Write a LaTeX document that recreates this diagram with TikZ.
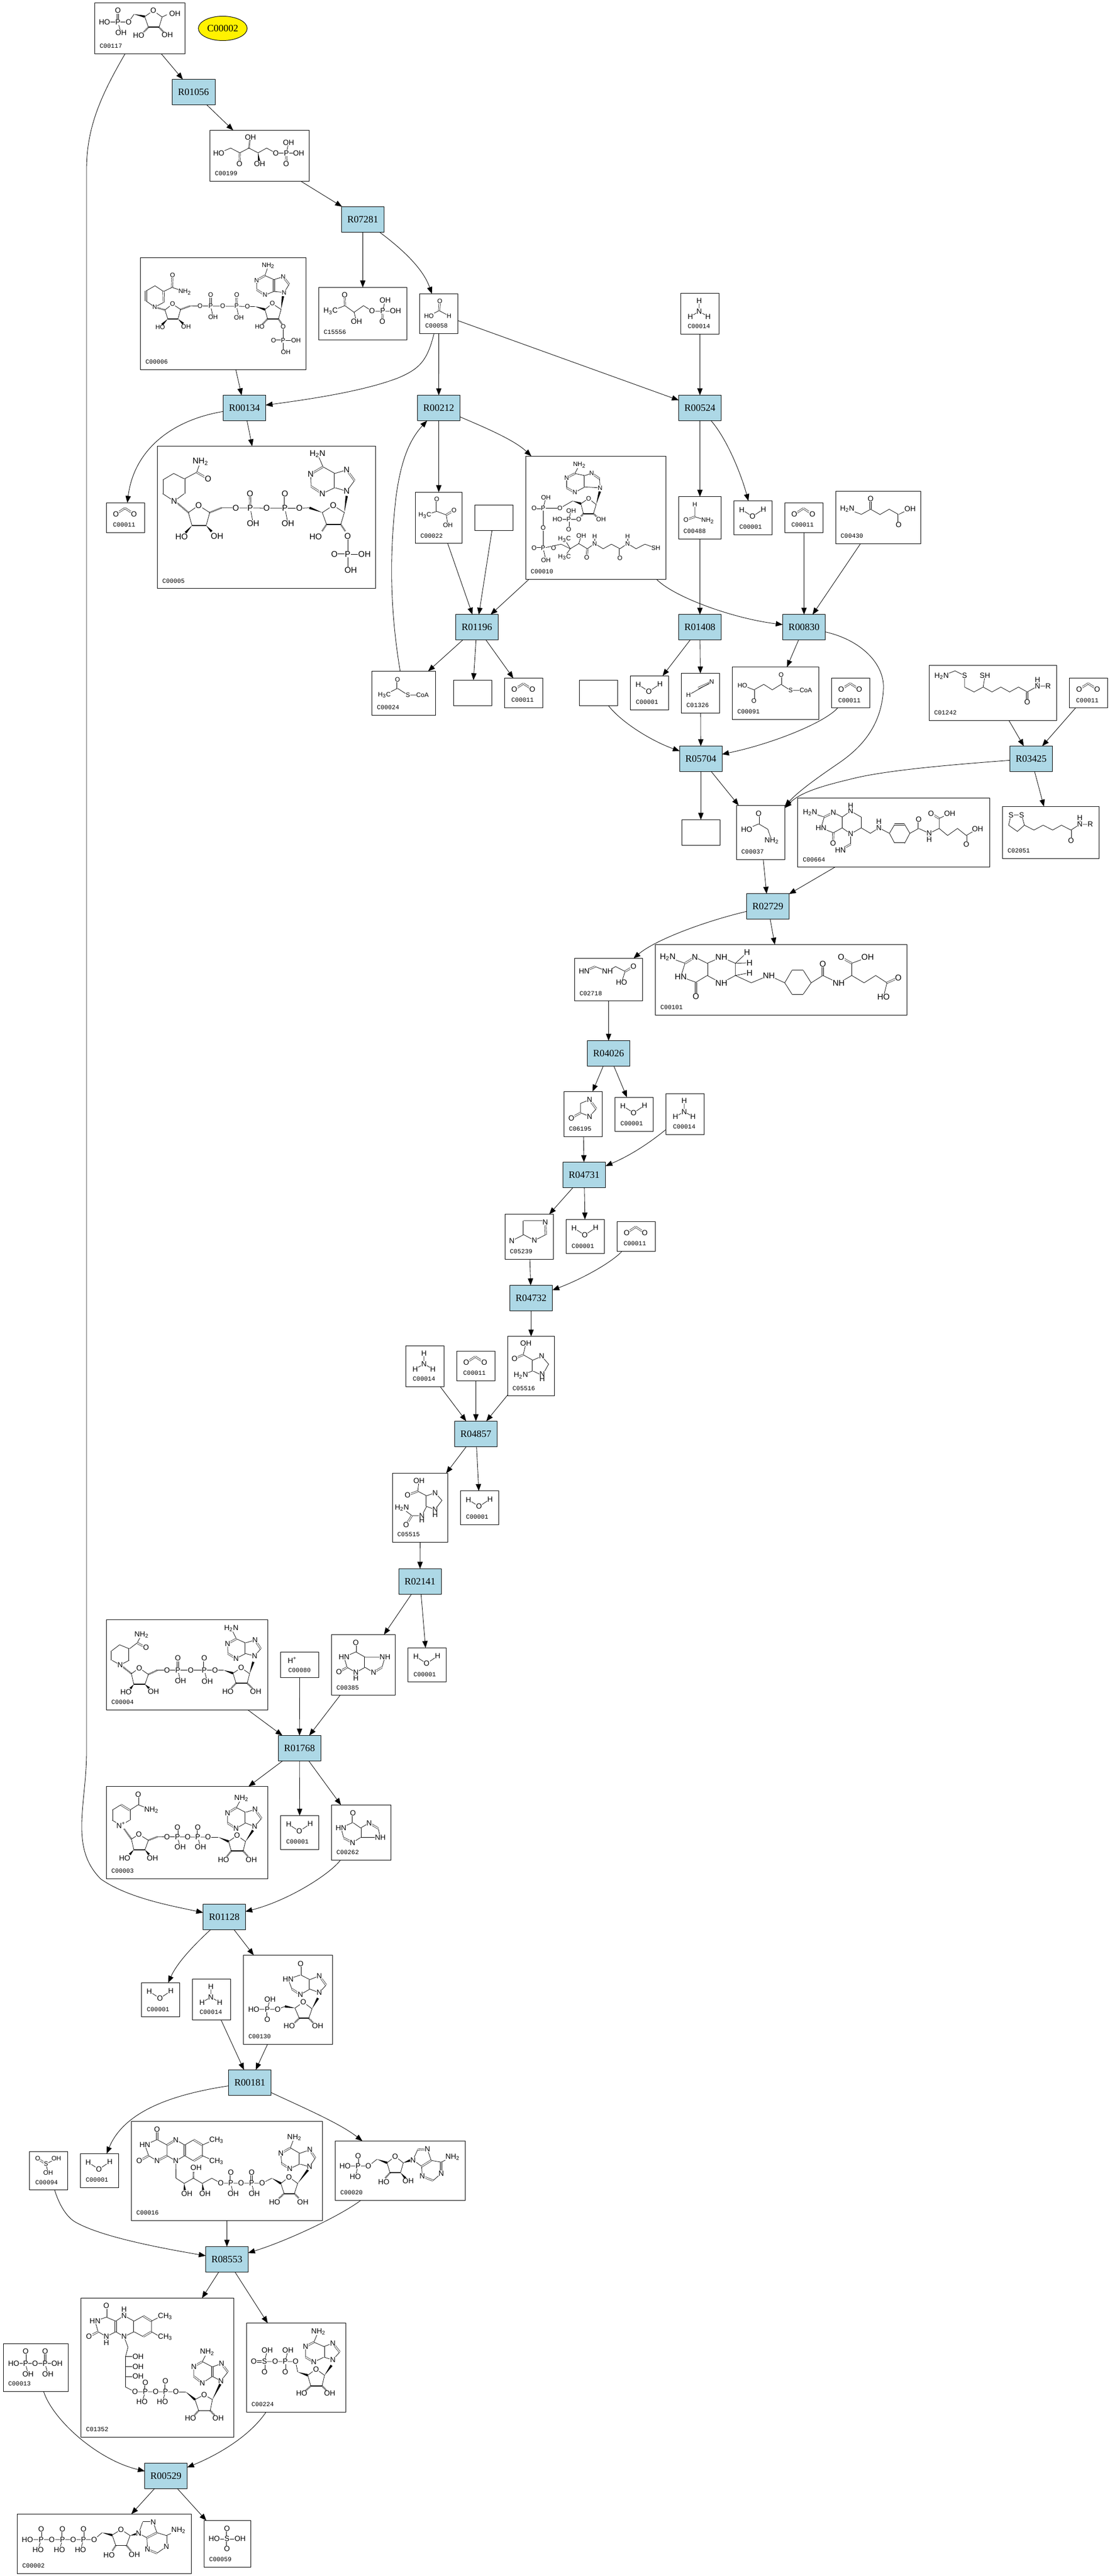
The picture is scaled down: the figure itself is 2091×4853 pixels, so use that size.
\documentclass[tikz,border=0pt]{standalone}
\usepackage{fontspec}
\setmainfont{Liberation Serif}
\newfontfamily\afam{Liberation Sans}
\newfontfamily\lfam{Liberation Mono}
\usetikzlibrary{arrows.meta,calc,shapes.geometric}
\newcounter{atm}
\newcommand\xNHb{NH\textsubscript{2}}
\newcommand\xHbN{H\textsubscript{2}N}
\newcommand\xHcC{H\textsubscript{3}C}
\newcommand\xCHc{CH\textsubscript{3}}
\newcommand\afS{\fontsize{6}{7}\selectfont\afam}
\newcommand\afM{\fontsize{7}{8}\selectfont\afam}
\newcommand\afL{\fontsize{7.8}{9}\selectfont\afam}
\let\afont\afM
\tikzset{
 cpd/.style={draw,line width=.5pt,inner sep=0pt,outer sep=0pt},
 rxn/.style={draw,line width=.5pt,inner sep=0pt,outer sep=0pt,fill=rxblue,font=\fontsize{9.2}{10}\selectfont},
 lab/.style={inner sep=0pt,anchor=west,font=\fontsize{5.85}{6}\selectfont\lfam},
 atom/.style={fill=white,inner sep=.25pt,outer sep=0pt,font=\afont},
 bd/.style={line width=.38pt},
 db/.style={double,line width=.33pt,double distance=1pt},
 hash/.style={line width=1.5pt,dash pattern=on .35pt off .55pt},
 edge/.style={-{Triangle[length=6.5pt,width=5pt]},line width=.42pt},
 Z1/.style={x=.2870pt,y=-.2232pt},
 Z2/.style={xshift=100pt,yshift=-225pt,x=.2232pt,y=-.2232pt},
 Z3/.style={xshift=350pt,yshift=-250pt,x=.2870pt,y=-.2870pt},
 Z4/.style={xshift=525pt,yshift=-600pt,x=.3320pt,y=-.2551pt},
 Z5/.style={xshift=350pt,yshift=-1000pt,x=.2232pt,y=-.2870pt},
 Z6/.style={xshift=75pt,yshift=-1450pt,x=.3189pt,y=-.2232pt},
 Z7/.style={xshift=100pt,yshift=-1775pt,x=.2551pt,y=-.2232pt},
 Z8/.style={yshift=-2100pt,x=.2870pt,y=-.2082pt},
 Z9/.style={yshift=-1990pt,x=.1667pt,y=-.1667pt},
 Z10/.style={xshift=775pt,yshift=-450pt,x=.1667pt,y=-.1667pt},
}
\definecolor{rxblue}{HTML}{ADD8E6}
% boxes: name, x0,y0,x1,y1, label
\newcommand\Cb[6][9]{%
 \pgfmathsetmacro\wb{(#4-#2)*.5}\pgfmathsetmacro\hb{(#5-#3)*.5}%
 \node[cpd,minimum width=\wb pt,minimum height=\hb pt] (#6) at ({(#2+#4)/2},{(#3+#5)/2}) {};%
 \node[lab] (#6l) at ({#2+#1},{#5-14.5}) {#6};}
\newcommand\Cc[6][9]{%
 \pgfmathsetmacro\wb{(#4-#2)*.5}\pgfmathsetmacro\hb{(#5-#3)*.5}%
 \node[cpd,minimum width=\wb pt,minimum height=\hb pt] (#6) at ({(#2+#4)/2},{(#3+#5)/2}) {};%
 \node[lab] (#6l) at ({#2+#1},{#5-14.5}) {\cutlast#6\relax};}
\def\cutlast#1#2#3#4#5#6#7\relax{#1#2#3#4#5#6}
\newcommand\Bb[5]{%
 \pgfmathsetmacro\wb{(#3-#1)*.5}\pgfmathsetmacro\hb{(#4-#2)*.5}%
 \node[cpd,minimum width=\wb pt,minimum height=\hb pt] (#5) at ({(#1+#3)/2},{(#2+#4)/2}) {};}
\newcommand\Rb[5]{%
 \pgfmathsetmacro\wb{(#3-#1)*.5}\pgfmathsetmacro\hb{(#4-#2)*.5}%
 \node[rxn,minimum width=\wb pt,minimum height=\hb pt] (#5) at ({(#1+#3)/2},{(#2+#4)/2}) {#5};}
% molecule helpers
\newcommand\At[3]{\stepcounter{atm}\node[atom] (a\arabic{atm}) at (#1,#2) {#3};}
\newcommand\AtP[2]{\stepcounter{atm}\node[atom] (a\arabic{atm}) at (#1) {#2};}
\newcommand\Ats[1]{\foreach \xa/\ya/\ta in {#1}{\At{\xa}{\ya}{\ta}}}
\newcommand\Bo[1]{\draw[bd] #1;}
\newcommand\Db[2]{\draw[db] (#1)--(#2);}
\newcommand\Wd[2]{\fill (#1) -- ($(#2)!1.1pt!90:(#1)$) -- ($(#2)!1.1pt!-90:(#1)$) -- cycle;}
\newcommand\Hd[2]{\draw[hash] (#1)--(#2);}
\newcommand\Aden[9]{\Bo{(#5)--(#1)--(#2)--(#3)--(#4)--(#9)--(#8)--(#7)--(#6)--(#5)}\Db{#5}{#4}\Db{#2}{#3}\Db{#7}{#6}\Db{#9}{#8}\AtP{#1}{N}\AtP{#3}{N}\AtP{#6}{N}\AtP{#8}{N}}
\newcommand\RibB[5]{\Bo{(#1)--(#2)--(#3)--(#4)}\Bo{(#5)--(#1)}\draw[line width=.9pt] (#4)--(#5);\AtP{#2}{O}}
\newcommand\water[1]{\begin{scope}[shift={(#1.north west)}]\let\afont\afM\Bo{(15,16.6)--(35,29.3)--(55.7,15.5)}\Ats{15/16.6/H,35/29.3/O,55.7/15.5/H}\end{scope}}
\newcommand\cotwo[1]{\begin{scope}[shift={(#1.north west)}]\let\afont\afM\Db{18,21}{35,10}\Db{35,10}{52,21}\Ats{18/21/O,52/21/O}\end{scope}}
\newcommand\ammon[1]{\begin{scope}[shift={(#1.north west)}]\let\afont\afM\Bo{(34.4,13.8)--(34.4,33.9)--(17.8,43.6)}\Bo{(34.4,33.9)--(51,43.6)}\Ats{34.4/13.8/H,34.4/33.9/N,17.8/43.6/H,51/43.6/H}\end{scope}}
\begin{document}
\begin{tikzpicture}[x=.5pt,y=-.5pt]
\path[use as bounding box,fill=white] (0,0) rectangle (2091,4853);
% ---------- reaction boxes
\Rb{324}{149.6}{405}{197.3}{R01056}
\Rb{643.5}{389.3}{723.3}{437.5}{R07281}
\Rb{420.5}{744.6}{500.4}{792.4}{R00134}
\Rb{786.6}{744.6}{866.5}{792.4}{R00212}
\Rb{1278.6}{744.5}{1358.4}{792.2}{R00524}
\Rb{858.4}{1157.9}{938.2}{1205.5}{R01196}
\Rb{1278.6}{1157.9}{1358.4}{1205.5}{R01408}
\Rb{1474.4}{1157.9}{1554.8}{1205.5}{R00830}
\Rb{1280.4}{1405.6}{1360.1}{1453.1}{R05704}
\Rb{1902.6}{1405.6}{1982.3}{1453.1}{R03425}
\Rb{1406.6}{1683.7}{1486.3}{1731.6}{R02729}
\Rb{1106.4}{1960.7}{1186.4}{2008.5}{R04026}
\Rb{1060.3}{2189.4}{1140.6}{2237.7}{R04731}
\Rb{960.3}{2421.4}{1040.6}{2469.6}{R04732}
\Rb{856.3}{2677.4}{936.6}{2725.6}{R04857}
\Rb{751.4}{2955.4}{831.1}{3003.6}{R02141}
\Rb{524.4}{3269.6}{604}{3317.4}{R01768}
\Rb{382.7}{3587.5}{462.2}{3635.3}{R01128}
\Rb{430.6}{3899.5}{510.7}{3947.3}{R00181}
\Rb{387.5}{4232.5}{467.3}{4280.4}{R08553}
\Rb{272.7}{4640.6}{352.5}{4688.5}{R00529}
% ---------- compounds
\node[ellipse,draw,line width=.5pt,fill=yellow,minimum width=46pt,minimum height=23pt,inner sep=0pt,font=\fontsize{9.2}{10}\selectfont] (C00002n) at (419.6,53.5) {C00002};
\Cb{178.5}{5.4}{348.4}{101.3}{C00117}
\Cb{395.5}{245.5}{582.7}{341.5}{C00199}
\Cb{264.6}{485.3}{576.3}{696.4}{C00006}
\Cb{600.4}{541.5}{766.3}{640.6}{C15556}
\Cb[10.4]{790.4}{553.6}{862.8}{628.6}{C00058}
\Cc[12]{200.4}{947.3}{272.3}{1003.6}{C00011a}
\Cb{296.4}{840.6}{707.6}{1108.9}{C00005}
\Cb{782.6}{927.2}{870.5}{1023.7}{C00022}
\Cc[12.5]{1282.7}{552.8}{1354.4}{629.2}{C00014a}
\Cb{990.5}{859.4}{1254.5}{1091.3}{C00010}
\Bb{894.6}{951.2}{966.4}{999.4}{blankA}
\Cb[8.5]{1278.6}{935.7}{1358.4}{1015.5}{C00488}
\Cc[10]{1382.5}{943.7}{1454.3}{1007.5}{C00001a}
\Cc[12]{1478.4}{947.8}{1550.7}{1003.4}{C00011b}
\Cb{1574.3}{925.3}{1734.3}{1024.3}{C00430}
\Cb[9]{700.6}{1264.6}{820.6}{1347.3}{C00024}
\Bb{854.4}{1281.3}{926.2}{1329.5}{blankB}
\Cc[12]{950.9}{1277.8}{1022.6}{1333}{C00011c}
\Bb{1091.5}{1281.3}{1163.3}{1329.5}{blankC}
\Cc[10]{1187.4}{1273.3}{1259.7}{1337.5}{C00001b}
\Cb[9]{1283.8}{1268.7}{1355.6}{1343.3}{C01326}
\Cb{1379.7}{1256.6}{1542.7}{1355.4}{C00091}
\Cc[12]{1566.6}{1277.6}{1638.3}{1333.7}{C00011d}
\Cb{1750.5}{1253.6}{1990.2}{1357.1}{C01242}
\Cc[12]{2014.8}{1277.6}{2086.5}{1333.7}{C00011e}
\Cb{1387.3}{1517.3}{1478.3}{1619.4}{C00037}
\Cb{1502.9}{1503.6}{1864.7}{1633.7}{C00664}
\Cb{1888.6}{1519.4}{2070.6}{1617.3}{C02051}
\Bb{1284.4}{1544.4}{1356.1}{1592.3}{blankD}
\Cb{1082.5}{1805.6}{1210.7}{1885.7}{C02718}
\Cb{1234.6}{1779.6}{1708.7}{1912.2}{C00101}
\Cb{1062.5}{2056.3}{1134.4}{2141.2}{C06195}
\Cc[10]{1158.5}{2067.2}{1230.4}{2131.5}{C00001c}
\Cc[13]{1254.5}{2060.3}{1326.3}{2137.2}{C00014b}
\Cb{951.3}{2287.6}{1042.4}{2372.6}{C05239}
\Cc[10]{1066.5}{2297.4}{1138.4}{2361.7}{C00001d}
\Cc[12]{1162.5}{2301.4}{1234.4}{2357.6}{C00011f}
\Cb{956.3}{2517.8}{1044.6}{2629.7}{C05516}
\Cc[13]{764.3}{2535.6}{836.6}{2612.5}{C00014c}
\Cc[12]{860.3}{2545.9}{932.6}{2601.6}{C00011g}
\Cb{739.3}{2775.5}{843.5}{2905.4}{C05515}
\Cc[10]{867.4}{2808.8}{939.7}{2872.6}{C00001e}
\Cb{624.5}{3079.5}{744.4}{3193.8}{C00385}
\Cc[10]{768.6}{3104.5}{840}{3168.8}{C00001f}
\Cb{200.4}{3051.3}{504.6}{3221.4}{C00004}
\Cb[14]{528.8}{3112.5}{600.3}{3160.7}{C00080}
\Cb{200.4}{3365.6}{504.6}{3539.3}{C00003}
\Cc[10]{528.8}{3420.5}{600.3}{3484.4}{C00001g}
\Cb{624.5}{3400.4}{736.1}{3504.5}{C00262}
\Cc[10]{266.3}{3735.3}{338.3}{3799.6}{C00001h}
\Cc[13]{362.8}{3728.6}{434.7}{3805.4}{C00014d}
\Cb{458.7}{3683.5}{626.5}{3851.3}{C00130}
\Cb{247.4}{3996.4}{607.7}{4183.5}{C00016}
\Cb{631.6}{4033.5}{876.5}{4145.5}{C00020}
\Cc[10]{151.3}{4057.3}{223.7}{4121.3}{C00001i}
\Cb[11]{55.3}{4053.3}{127.7}{4125.7}{C00094}
\Cb{152.7}{4329.5}{440.3}{4591.5}{C01352}
\Cb{464.4}{4376.6}{651.5}{4544.4}{C00224}
\Cb{6.3}{4415.3}{128.6}{4505.3}{C00013}
\Cc{32.7}{4736.4}{360.5}{4848.5}{C00002b}
\Cb{384.6}{4748.5}{472.4}{4836.4}{C00059}
% ---------- small repeated molecules
\water{C00001a}\water{C00001b}\water{C00001c}\water{C00001d}\water{C00001e}\water{C00001f}\water{C00001g}\water{C00001h}\water{C00001i}
\cotwo{C00011a}\cotwo{C00011b}\cotwo{C00011c}\cotwo{C00011d}\cotwo{C00011e}\cotwo{C00011f}\cotwo{C00011g}
\ammon{C00014a}\ammon{C00014b}\ammon{C00014c}\ammon{C00014d}
% ---------- Z1 molecules
\begin{scope}[Z1]\let\afont\afM
\Bo{(343,93)--(422,93)--(440,60)}\Db{387,45}{387,93}\Bo{(387,93)--(397,139)}\Wd{440,60}{475,70}
\RibB{475,70}{503,45}{532,72}{522,115}{487,115}
\Bo{(532,72)--(548,62)}\Hd{487,115}{465,145}\Hd{522,115}{540,140}
\Ats{387/45/O,387/93/P,343/93/HO,422/93/O,397/139/OH,574/57/OH,455/150/HO,549/148/OH}
% C00199
\Bo{(718,646)--(757,625)--(787,645)--(817,625)--(847,645)--(875,625)--(905,646)--(980,646)}\Bo{(940,646)--(947,602)}\Db{787,645}{786,691}\Db{940,646}{939,691}\Hd{817,625}{820,590}\Wd{847,645}{850,680}
\Ats{718/646/HO,786/691/O,822/579/OH,852/691/OH,905/646/O,940/646/P,947/602/OH,980/646/OH,939/691/O}
% C15556
\Bo{(1085,1313)--(1132,1290)--(1162,1318)--(1193,1290)--(1221,1313)--(1298,1313)}\Bo{(1162,1318)--(1170,1357)}\Bo{(1256,1313)--(1264,1268)}\Db{1132,1290}{1131,1245}\Db{1256,1313}{1255,1357}
\Ats{1085/1313/\xHcC,1131/1245/O,1170/1357/OH,1221/1313/O,1256/1313/P,1264/1268/OH,1298/1313/OH,1255/1357/O}
\end{scope}
% ---------- Z2 molecules
\begin{scope}[Z2]\let\afont\afS
% C00058
\Bo{(1362,325)--(1405,303)--(1447,325)}\Db{1408,262}{1405,303}\Ats{1408/262/O,1362/325/HO,1447/325/H}
% C00022
\Bo{(1345,1166)--(1395,1150)--(1435,1165)--(1442,1208)}\Db{1395,1099}{1395,1150}\Db{1435,1165}{1468,1145}\Ats{1395/1099/O,1345/1166/\xHcC,1468/1145/O,1442/1208/OH}
% C00006
\Bo{(278,205)--(332,223)}\Db{280,154}{278,205}\Bo{(278,205)--(242,222)--(206,198)--(168,220)--(168,262)--(205,288)--(243,268)--(242,222)}\Db{242,222}{243,268}\Db{168,220}{168,262}
\Hd{205,288}{248,300}\RibB{314,298}{280,275}{248,300}{260,338}{303,338}
\Wd{260,338}{236,362}\Wd{303,338}{325,358}\Hd{314,298}{355,283}
\Bo{(355,283)--(596,285)}\Db{441,237}{441,283}\Db{551,237}{550,283}\Bo{(441,283)--(451,330)}\Bo{(550,283)--(560,332)}\Bo{(596,285)--(628,285)}\Wd{628,285}{670,298}
\RibB{670,298}{701,273}{738,298}{727,338}{681,338}\Hd{681,338}{660,360}\Hd{727,338}{742,360}
\Wd{738,298}{746,242}\Bo{(747,371)--(747,478)}\Db{706,429}{747,429}\Bo{(747,429)--(801,429)}
\Bo{(670,155)--(684,113)}\Aden{751,226}{772,192}{747,160}{708,172}{708,222}{670,237}{636,215}{635,175}{670,155}
\Ats{280/154/O,332/223/\xNHb,205/288/N,228/373/HO,337/371/OH,396/283/O,441/283/P,441/237/O,451/330/OH,492/283/O,550/283/P,551/237/O,560/332/OH,596/285/O,648/371/HO,747/371/O,747/429/P,706/429/O,801/429/OH,758/478/OH,684/113/\xNHb}
\end{scope}
\begin{scope}[Z2]\let\afont\afL
% C00005
\Bo{(398,940)--(382,985)--(330,1013)--(285,990)--(238,1018)--(238,1075)--(287,1107)--(330,1075)--(330,1013)}\Db{382,985}{430,1013}\Db{330,1013}{330,1075}\Db{238,1018}{238,1075}
\Hd{300,1115}{347,1155}\RibB{437,1155}{390,1125}{347,1155}{362,1210}{422,1210}\Wd{362,1210}{335,1240}\Wd{422,1210}{445,1235}\Hd{437,1155}{487,1135}
\Bo{(487,1135)--(815,1137)}\Db{607,1076}{608,1135}\Db{754,1076}{754,1135}\Bo{(608,1135)--(620,1200)}\Bo{(754,1135)--(767,1202)}\Wd{912,1155}{858,1135}\Bo{(815,1137)--(858,1135)}
\RibB{912,1155}{958,1125}{1005,1155}{990,1205}{930,1205}\Hd{930,1205}{910,1235}\Hd{990,1205}{1010,1235}
\Wd{1005,1155}{1015,1085}\Bo{(1019,1255)--(1019,1399)}\Db{963,1332}{1019,1332}\Bo{(1019,1332)--(1090,1332)}
\Bo{(915,962)--(892,908)}\Aden{1015,1065}{1048,1020}{1015,975}{965,990}{965,1050}{912,1075}{865,1045}{863,993}{915,962}
\Ats{398/940/\xNHb,430/1013/O,287/1107/N,318/1258/HO,468/1255/OH,547/1137/O,608/1135/P,607/1076/O,620/1200/OH,677/1137/O,754/1135/P,754/1076/O,767/1202/OH,815/1137/O,884/1257/HO,1019/1255/O,1019/1332/P,963/1332/O,1090/1332/OH,1032/1399/OH,892/908/\xHbN}
\end{scope}
% ---------- Z3 molecules
\begin{scope}[Z3]\let\afont\afS
% C00010
\Bo{(667,683)--(682,655)}\Aden{750,730}{748,700}{722,682}{700,690}{700,727}{667,745}{640,730}{640,697}{667,683}
\RibB{687,782}{712,765}{737,785}{728,815}{695,815}\Wd{737,785}{749,742}\Wd{660,773}{687,782}\Bo{(660,773)--(618,797)--(563,797)}\Db{533,797}{563,797}\Bo{(563,797)--(572,762)}\Bo{(563,797)--(563,928)}\Db{533,928}{563,928}\Bo{(563,928)--(572,967)}\Bo{(563,928)--(622,915)--(652,930)--(680,913)--(708,930)--(732,913)--(760,930)--(787,915)--(815,930)--(840,913)--(868,930)--(897,915)--(933,928)}
\Db{708,930}{706,958}\Db{815,930}{815,960}\Bo{(652,930)--(633,898)}\Bo{(652,930)--(633,957)}\Bo{(680,913)--(688,887)}\Bo{(732,913)--(732,890)}\Bo{(840,913)--(840,890)}
\Hd{695,815}{680,833}\Hd{728,815}{745,830}\Bo{(680,833)--(610,833)}\Bo{(647,833)--(655,805)}\Db{647,833}{647,866}
\Ats{682/655/\xNHb,618/797/O,563/797/P,533/797/O,572/762/OH,563/862/O,563/928/P,533/928/O,572/967/OH,597/928/O,633/898/\xHcC,633/957/\xHcC,688/887/OH,706/958/O,732/913/N,732/890/H,815/960/O,840/913/N,840/890/H,933/928/SH,680/833/O,647/833/P,610/833/HO,655/805/OH,647/866/O,753/833/OH}
% C00488
\Bo{(1061,785)--(1061,825)--(1103,838)}\Db{1032,835}{1061,825}\Ats{1061/785/H,1032/835/O,1103/838/\xNHb}
% C01326
\Db{1072,1387}{1116,1367}\Bo{(1040,1410)--(1116,1367)}\Ats{1040/1410/H,1116/1367/N}
% C00024
\Bo{(42,1410)--(85,1388)--(119,1410)--(167,1410)}\Db{85,1360}{85,1388}\Ats{42/1410/\xHcC,85/1360/O,119/1410/S,167/1410/CoA}
% C00091
\Bo{(1217,1378)--(1255,1393)--(1287,1375)--(1315,1393)--(1344,1375)--(1375,1395)--(1425,1395)}\Db{1255,1393}{1255,1430}\Db{1344,1344}{1344,1375}\Ats{1217/1378/HO,1255/1430/O,1344/1344/O,1375/1395/S,1425/1395/CoA}
\end{scope}
% C00430
\begin{scope}[Z10]\let\afont\afM
\Bo{(138,177)--(218,207)--(270,178)--(323,208)--(375,178)--(428,208)--(493,175)}\Db{270,120}{270,178}\Db{428,208}{428,267}\Ats{138/177/\xHbN,270/120/O,428/267/O,493/175/OH}
\end{scope}
% ---------- Z4 molecules
\begin{scope}[Z4]\let\afont\afM
% C01242
\Bo{(1090,145)--(1128,125)--(1155,143)--(1155,185)--(1182,203)--(1208,185)--(1233,203)--(1258,185)--(1283,203)--(1308,185)--(1333,203)--(1362,182)--(1392,182)}\Bo{(1208,185)--(1213,143)}\Bo{(1362,182)--(1362,158)}\Db{1333,203}{1333,241}
\Ats{1090/145/\xHbN,1155/143/S,1213/143/SH,1333/241/O,1362/182/N,1362/158/H,1392/182/R}
% C00037
\Bo{(537,710)--(571,690)--(597,710)--(608,752)}\Db{571,652}{571,690}\Ats{571/652/O,537/710/HO,608/752/\xNHb}
% C00664
\Bo{(717,648)--(757,665)--(783,648)--(808,665)--(808,705)--(783,723)--(748,705)--(757,665)}\Db{757,665}{783,648}\Db{782,762}{783,723}
\Bo{(808,665)--(832,643)--(862,665)--(862,705)--(832,727)--(808,705)}\Bo{(832,643)--(832,622)}\Bo{(832,727)--(832,765)}\Db{832,765}{803,787}
\Bo{(862,705)--(888,725)--(912,705)--(942,725)}\Bo{(912,705)--(912,682)}
\Bo{(942,725)--(957,692)--(985,692)--(1000,725)--(985,762)--(957,762)--cycle}\Db{957,692}{985,692}\Db{957,762}{985,762}
\Bo{(1000,725)--(1025,707)--(1055,725)--(1083,707)--(1107,733)--(1135,707)--(1160,733)--(1192,708)}\Db{1025,674}{1025,707}\Bo{(1055,725)--(1055,748)}\Bo{(1083,707)--(1083,670)--(1113,652)}\Db{1060,652}{1083,670}\Db{1160,765}{1160,733}
\Ats{717/648/\xHbN,783/648/N,748/705/HN,782/762/O,832/643/N,832/622/H,832/727/N,803/787/HN,912/705/N,912/682/H,1025/674/O,1055/725/N,1055/748/H,1060/652/O,1113/652/OH,1160/765/O,1192/708/OH}
% C02051
\Bo{(1287,657)--(1317,657)--(1325,695)--(1305,718)--(1280,695)--(1287,657)}\Bo{(1325,695)--(1352,713)--(1378,695)--(1405,713)--(1430,695)--(1457,713)--(1482,692)--(1512,692)}\Bo{(1482,692)--(1482,668)}\Db{1457,713}{1457,752}
\Ats{1287/657/S,1317/657/S,1457/752/O,1482/692/N,1482/668/H,1512/692/R}
% C02718
\Bo{(107,1217)--(142,1235)--(165,1217)--(192,1235)--(182,1276)}\Db{76,1235}{107,1217}\Db{192,1235}{216,1217}\Ats{76/1235/HN,142/1235/NH,216/1217/O,182/1276/HO}
\end{scope}
\begin{scope}[Z4]\let\afont\afL
% C00101
\Bo{(313,1182)--(362,1205)--(390,1182)--(425,1205)--(425,1250)--(393,1275)--(350,1255)--(362,1205)}\Db{362,1205}{390,1182}\Db{425,1205}{425,1250}\Db{393,1275}{393,1327}
\Bo{(425,1205)--(465,1182)--(505,1205)--(505,1250)--(465,1278)--(425,1250)}\Bo{(505,1205)--(538,1165)}\Bo{(505,1205)--(545,1203)}\Bo{(505,1250)--(545,1240)}
\Bo{(505,1250)--(550,1277)--(600,1250)--(645,1277)}\Bo{(645,1277)--(665,1232)--(698,1232)--(720,1277)--(698,1318)--(665,1318)--cycle}\Db{665,1232}{698,1232}\Db{665,1318}{698,1318}
\Bo{(720,1277)--(753,1250)--(798,1278)--(835,1250)--(870,1277)--(903,1250)--(935,1277)--(925,1330)}\Db{753,1207}{753,1250}\Bo{(835,1250)--(835,1205)--(880,1183)}\Db{805,1183}{835,1205}\Db{935,1277}{967,1258}
\Ats{313/1182/\xHbN,390/1182/N,465/1182/NH,538/1165/H,545/1203/H,545/1240/H,465/1278/NH,393/1327/O,350/1255/HN,600/1250/NH,753/1207/O,798/1278/NH,805/1183/O,880/1183/OH,967/1258/O,925/1330/HO}
\end{scope}
% ---------- Z5 molecules
\begin{scope}[Z5]\let\afont\afM
% C06195
\Bo{(882,168)--(882,137)--(920,125)--(948,155)--(920,180)--(882,168)}\Db{843,185}{882,168}\Db{920,125}{948,155}\Ats{843/185/O,920/125/N,920/180/N}
% C05239
\Bo{(642,522)--(733,522)--(735,568)--(687,587)--(642,568)--(642,522)}\Bo{(642,568)--(592,588)}\Db{642,522}{642,568}\Db{733,527}{735,568}\Ats{733/527/N,687/587/N,592/588/N}
% C05516
\Bo{(651,925)--(640,962)--(680,980)--(718,967)--(747,993)--(720,1030)--(680,1015)--(680,980)}\Bo{(680,1015)--(630,1030)}\Db{603,975}{640,962}\Db{680,980}{680,1015}\Bo{(720,1030)--(720,1042)}\Ats{651/925/OH,603/975/O,718/967/N,720/1025/N,720/1042/H,630/1030/\xHbN}
% C05515
\Bo{(200,1375)--(195,1410)--(232,1425)--(268,1415)--(297,1440)--(268,1470)--(232,1460)--(232,1425)}\Db{152,1423}{195,1410}\Db{232,1425}{232,1460}\Bo{(268,1470)--(268,1488)}\Bo{(232,1460)--(212,1490)--(170,1490)--(128,1465)}\Db{170,1490}{146,1520}
\Ats{200/1375/OH,152/1423/O,268/1415/N,268/1470/N,268/1488/H,212/1490/N,212/1505/H,128/1465/\xHbN,146/1520/O}
\end{scope}
% ---------- Z6 molecules
\begin{scope}[Z6]\let\afont\afM
% C00004
\Bo{(183,403)--(170,437)--(147,462)--(118,445)--(95,470)--(95,510)--(120,530)--(147,510)--(147,462)}\Db{170,437}{196,457}\Db{147,462}{147,510}\Db{95,470}{95,510}
\Hd{125,535}{153,567}\RibB{203,570}{176,543}{153,567}{160,612}{193,612}\Wd{160,612}{150,630}\Wd{193,612}{205,628}\Hd{203,570}{230,552}
\Bo{(230,552)--(400,552)}\Db{290,502}{290,552}\Db{368,502}{368,552}\Bo{(290,552)--(298,598)}\Bo{(368,552)--(377,600)}\Bo{(400,552)--(425,552)}\Wd{425,552}{453,565}
\RibB{453,565}{477,542}{502,567}{495,607}{462,607}\Hd{462,607}{448,628}\Hd{495,607}{510,628}\Wd{502,567}{513,517}
\Bo{(463,420)--(448,376)}\Aden{517,492}{535,462}{518,425}{490,437}{490,482}{462,503}{438,482}{437,440}{463,420}
\Ats{183/403/\xNHb,196/457/O,120/530/N,137/645/HO,218/643/OH,258/552/O,290/552/P,290/502/O,298/598/OH,328/552/O,368/552/P,368/502/O,377/600/OH,400/552/O,438/641/HO,520/641/OH,448/376/\xHbN}
% C00003
\Bo{(173,1120)--(212,1142)}\Db{173,1076}{173,1120}\Bo{(173,1120)--(148,1143)--(122,1120)--(96,1143)--(96,1185)--(122,1207)--(148,1185)--(148,1143)}\Db{148,1143}{148,1185}\Db{96,1143}{96,1185}\Db{122,1120}{148,1143}
\Hd{128,1215}{153,1265}\RibB{203,1270}{175,1245}{153,1265}{160,1310}{193,1310}\Wd{160,1310}{148,1330}\Wd{193,1310}{205,1330}\Hd{203,1270}{230,1255}
\Bo{(230,1255)--(379,1257)}\Db{289,1215}{289,1257}\Db{349,1215}{349,1257}\Bo{(289,1257)--(297,1299)}\Bo{(349,1257)--(357,1299)}\Bo{(379,1257)--(410,1257)}\Wd{410,1257}{440,1275}
\RibB{440,1275}{465,1250}{490,1275}{483,1315}{448,1315}\Hd{448,1315}{435,1338}\Hd{483,1315}{497,1338}\Wd{490,1275}{512,1228}
\Bo{(463,1132)--(478,1092)}\Aden{517,1212}{537,1178}{518,1140}{490,1152}{490,1197}{462,1220}{437,1197}{437,1155}{463,1132}
\Ats{173/1076/O,212/1142/\xNHb,122/1207/N\textsuperscript{+},133/1346/HO,215/1346/OH,258/1257/O,289/1257/P,289/1215/O,297/1299/OH,319/1257/O,349/1257/P,349/1215/O,357/1299/OH,379/1257/O,425/1352/HO,507/1352/OH,478/1092/\xNHb}
% C00385
\Bo{(816,475)--(781,497)--(790,540)--(816,562)--(843,540)--(843,497)--(816,475)}\Db{816,435}{816,475}\Db{766,560}{790,540}\Db{843,497}{843,540}\Bo{(843,497)--(902,497)--(893,540)--(868,562)--(843,540)}\Db{893,540}{868,562}\Bo{(816,562)--(816,587)}
\Ats{816/435/O,781/497/HN,766/560/O,816/562/N,816/587/H,902/497/NH,868/562/N}
% C00080
\At{628}{510}{H\textsuperscript{+}}
% C00262
\Bo{(807,1195)--(772,1217)--(780,1260)--(806,1280)--(830,1258)--(830,1218)--(807,1195)}\Db{807,1155}{807,1195}\Db{780,1260}{806,1280}\Db{830,1218}{830,1258}\Bo{(830,1218)--(855,1197)--(882,1220)--(888,1258)--(830,1258)}\Db{855,1197}{882,1220}
\Ats{807/1155/O,772/1217/HN,806/1280/N,855/1197/N,888/1258/NH}
\end{scope}
% ---------- Z7 molecules
\begin{scope}[Z7]\let\afont\afM
% C00130
\Bo{(718,382)--(672,400)--(686,442)--(717,465)--(752,442)--(752,402)--(718,382)}\Db{718,335}{718,382}\Db{686,442}{717,465}\Db{752,402}{752,442}\Bo{(752,402)--(787,386)--(812,425)--(787,457)--(752,442)}\Db{787,386}{812,425}
\Wd{760,525}{782,480}\RibB{697,522}{728,497}{760,525}{748,565}{713,565}\Hd{713,565}{695,585}\Hd{748,565}{765,585}\Wd{697,522}{660,515}\Bo{(660,515)--(633,527)--(545,527)}\Bo{(595,527)--(605,485)}\Db{595,527}{595,571}
\Ats{718/335/O,672/400/HN,717/465/N,787/386/N,787/457/N,633/527/O,595/527/P,545/527/HO,605/485/OH,595/571/O,676/598/HO,781/598/OH}
% C00016
\Bo{(188,1077)--(143,1100)--(157,1145)--(188,1167)--(225,1145)--(225,1100)--(188,1077)}\Db{188,1033}{188,1077}\Db{157,1145}{122,1167}\Db{225,1100}{257,1078}\Db{188,1167}{225,1145}
\Bo{(257,1078)--(290,1100)--(290,1145)--(257,1167)--(225,1145)}\Bo{(290,1100)--(323,1078)--(355,1100)--(355,1145)--(323,1167)--(290,1145)}\Db{323,1078}{355,1100}\Db{355,1145}{323,1167}\Db{290,1100}{290,1145}\Bo{(355,1100)--(395,1080)}\Bo{(355,1145)--(395,1165)}
\Bo{(257,1167)--(258,1240)--(288,1262)--(322,1240)--(355,1262)--(390,1240)--(423,1261)--(576,1261)}\Wd{288,1262}{290,1290}\Hd{322,1240}{323,1212}\Wd{355,1262}{358,1290}\Db{460,1216}{460,1261}\Db{537,1216}{537,1261}\Bo{(460,1261)--(469,1306)}\Bo{(537,1261)--(547,1306)}\Bo{(576,1261)--(612,1240)}\Wd{612,1240}{645,1262}
\RibB{645,1262}{675,1235}{707,1262}{695,1305}{657,1305}\Hd{657,1305}{638,1325}\Hd{695,1305}{712,1325}\Wd{707,1262}{745,1205}
\Bo{(680,1112)--(695,1068)}\Aden{751,1192}{772,1155}{752,1120}{715,1135}{715,1180}{678,1200}{648,1178}{645,1135}{680,1112}
\Ats{188/1033/O,143/1100/HN,122/1167/O,188/1167/N,257/1078/N,257/1167/N,407/1078/\xCHc,407/1168/\xCHc,298/1306/OH,332/1196/OH,365/1306/OH,423/1261/O,460/1261/P,460/1216/O,469/1306/OH,498/1261/O,537/1261/P,537/1216/O,547/1306/OH,576/1261/O,622/1340/HO,726/1340/OH,695/1068/\xNHb}
% C00020
\Bo{(882,1189)--(968,1189)--(1000,1160)}\Db{930,1145}{930,1189}\Bo{(930,1189)--(920,1234)}\Wd{1000,1160}{1037,1175}
\RibB{1037,1175}{1067,1148}{1097,1175}{1087,1217}{1048,1217}\Hd{1048,1217}{1030,1240}\Wd{1087,1217}{1105,1240}\Wd{1097,1175}{1122,1165}
\Bo{(1237,1172)--(1279,1150)}\Aden{1133,1163}{1150,1120}{1186,1118}{1200,1165}{1165,1190}{1167,1232}{1207,1250}{1237,1220}{1237,1172}
\Ats{882/1189/HO,930/1189/P,930/1145/O,920/1234/HO,968/1189/O,1025/1256/HO,1115/1252/OH,1279/1150/\xNHb}
\end{scope}
% ---------- Z9 C00094
\begin{scope}[Z9]\let\afont\afS
\Db{213,260}{260,290}\Bo{(260,290)--(318,260)}\Bo{(260,290)--(272,340)}\Ats{213/260/O,260/290/S,318/260/OH,272/340/OH}
\end{scope}
% ---------- Z8 molecules
\begin{scope}[Z8]\let\afont\afM
% C01352
\Bo{(349,397)--(312,415)--(322,463)--(349,485)--(380,463)--(380,415)--(349,397)}\Db{349,346}{349,397}\Db{322,463}{292,485}\Db{380,415}{380,463}\Bo{(349,485)--(349,512)}
\Bo{(380,415)--(407,390)--(440,415)--(440,463)--(407,485)--(380,463)}\Bo{(407,390)--(407,362)}\Bo{(440,415)--(470,392)--(497,415)--(497,463)--(470,485)--(440,463)}\Db{470,392}{497,415}\Db{497,463}{470,485}\Db{440,415}{440,463}\Bo{(497,415)--(525,395)}\Bo{(497,463)--(525,485)}
\Bo{(407,485)--(420,533)--(412,575)--(412,713)--(443,735)--(577,735)}\Bo{(412,575)--(453,575)}\Bo{(412,620)--(453,620)}\Bo{(412,665)--(453,665)}\Db{477,692}{477,735}\Db{543,687}{543,735}\Bo{(477,735)--(466,780)}\Bo{(543,735)--(533,780)}\Bo{(577,735)--(610,735)}\Wd{610,735}{640,770}
\RibB{640,770}{670,748}{697,770}{690,820}{652,820}\Hd{652,820}{637,842}\Hd{690,820}{705,842}\Wd{697,770}{723,700}
\Bo{(664,598)--(680,555)}\Aden{725,685}{748,645}{727,607}{697,622}{697,665}{664,695}{636,665}{636,620}{664,598}
\Ats{349/346/O,312/415/HN,292/485/O,349/485/N,349/512/H,407/390/N,407/362/H,407/485/N,542/392/\xCHc,542/487/\xCHc,453/575/OH,453/620/OH,453/665/OH,443/735/O,477/735/P,477/692/O,466/780/HO,511/735/O,543/735/P,543/687/O,533/780/HO,577/735/O,625/855/HO,716/855/OH,680/555/\xNHb}
% C00224
\Db{833,598}{868,598}\Db{868,598}{868,646}\Db{936,598}{936,646}\Bo{(868,598)--(970,598)--(977,645)}\Bo{(868,598)--(877,547)}\Bo{(936,598)--(945,547)}\Wd{977,645}{1010,660}
\RibB{1010,660}{1037,632}{1065,660}{1057,708}{1020,708}\Hd{1020,708}{1003,730}\Hd{1057,708}{1072,730}\Wd{1065,660}{1088,615}
\Bo{(1030,510)--(1045,462)}\Aden{1092,590}{1115,555}{1092,515}{1063,530}{1063,578}{1030,600}{1003,578}{1003,530}{1030,510}
\Ats{833/598/O,868/598/S,877/547/OH,868/646/O,903/598/O,936/598/P,945/547/OH,936/646/O,970/598/O,990/742/HO,1082/742/OH,1045/462/\xNHb}
% C00013
\Bo{(45,607)--(187,607)}\Db{84,552}{84,607}\Db{148,552}{148,607}\Bo{(84,607)--(92,654)}\Bo{(148,607)--(157,654)}\Ats{84/552/O,84/607/P,148/552/O,148/607/P,45/607/HO,115/607/O,187/607/OH,92/654/OH,157/654/OH}
% C00002
\Bo{(90,1403)--(309,1403)--(335,1372)}\Db{135,1355}{135,1403}\Db{205,1355}{205,1403}\Db{274,1355}{274,1403}\Bo{(135,1403)--(125,1450)}\Bo{(205,1403)--(195,1450)}\Bo{(274,1403)--(264,1450)}\Wd{335,1372}{368,1383}
\RibB{368,1383}{397,1358}{427,1385}{415,1430}{380,1430}\Hd{380,1430}{368,1455}\Hd{415,1430}{430,1455}\Wd{427,1385}{448,1378}
\Bo{(546,1385)--(586,1360)}\Aden{455,1375}{468,1325}{503,1325}{515,1372}{482,1395}{484,1448}{515,1465}{546,1435}{546,1385}
\Ats{90/1403/HO,135/1403/P,135/1355/O,125/1450/HO,170/1403/O,205/1403/P,205/1355/O,195/1450/HO,240/1403/O,274/1403/P,274/1355/O,264/1450/HO,309/1403/O,358/1474/HO,441/1470/OH,586/1360/\xNHb}
% C00059
\Bo{(703,1400)--(788,1400)}\Db{745,1353}{745,1400}\Db{745,1400}{745,1445}\Ats{745/1353/O,745/1400/S,703/1400/HO,788/1400/OH,745/1445/O}
\end{scope}
% ---------- straight edges
\foreach \ea/\eb in {C00117/R01056,R01056/C00199,C00199/R07281,R07281/C15556,C00058/R00212,C00006/R00134,R00134/C00005,C00058/R00524,C00014a/R00524,R00212/C00022,C00022/R01196,blankA/R01196,C00010/R01196,R00524/C00488,C00488/R01408,C00011b/R00830,C00430/R00830,R01196/C00024,R01196/blankB,R01196/C00011c,R01408/C00001b,R01408/C01326,R00830/C00091,C01326/R05704,C01242/R03425,C00011e/R03425,R05704/blankD,R05704/C00037,R03425/C02051,C00037/R02729,C00664/R02729,R02729/C00101,C02718/R04026,R04026/C06195,R04026/C00001c,C06195/R04731,R04731/C05239,R04731/C00001d,C05239/R04732,R04732/C05516,C00014c/R04857,C00011g/R04857,C05516/R04857,R04857/C05515,R04857/C00001e,C05515/R02141,R02141/C00385,R02141/C00001f,C00385/R01768,C00004/R01768,C00080/R01768,R01768/C00003,R01768/C00001g,R01768/C00262,R01128/C00130,C00014d/R00181,C00130/R00181,C00016/R08553,R08553/C01352,R08553/C00224,R00529/C00002b,R00529/C00059}{\draw[edge] (\ea) -- (\eb);}
% ---------- curved edges
\draw[edge] (C00117) .. controls (190,180) and (163,240) .. (163,320) -- (163,3300) .. controls (163,3400) and (130,3480) .. (190,3540) .. controls (240,3575) and (320,3590) .. (R01128);
\draw[edge] (R07281) .. controls (745,460) and (795,500) .. (C00058);
\draw[edge] (C00058) .. controls (805,680) and (790,695) .. (750,712) .. controls (690,735) and (600,750) .. (R00134);
\draw[edge] (R00212) .. controls (920,808) and (970,830) .. (C00010);
\draw[edge] (C00024) .. controls (735,1150) and (733,1050) .. (746,936) .. controls (755,870) and (770,830) .. (R00212);
\draw[edge] (C00010) .. controls (1270,1125) and (1380,1165) .. (R00830);
\draw[edge] (R00134) .. controls (320,792) and (252,850) .. (C00011a);
\draw[edge] (R00524) .. controls (1372,830) and (1398,900) .. (C00001a);
\draw[edge] (R00830) .. controls (1620,1205) and (1668,1250) .. (1664,1300) .. controls (1660,1370) and (1620,1410) .. (1581,1437) .. controls (1540,1465) and (1505,1490) .. (C00037);
\draw[edge] (R03425) .. controls (1800,1440) and (1680,1450) .. (1614,1465) .. controls (1560,1478) and (1510,1490) .. (C00037);
\draw[edge] (blankC) .. controls (1170,1360) and (1225,1395) .. (R05704);
\draw[edge] (C00011d) .. controls (1555,1360) and (1460,1400) .. (R05704);
\draw[edge] (R02729) .. controls (1330,1735) and (1235,1770) .. (C02718);
\draw[edge] (C00014b) .. controls (1215,2160) and (1180,2180) .. (R04731);
\draw[edge] (C00011f) .. controls (1150,2380) and (1095,2410) .. (R04732);
\draw[edge] (R01128) .. controls (370,3660) and (335,3695) .. (C00001h);
\draw[edge] (C00262) .. controls (622,3530) and (545,3580) .. (R01128);
\draw[edge] (R00181) .. controls (330,3945) and (235,3975) .. (C00001i);
\draw[edge] (R00181) .. controls (570,3970) and (640,4000) .. (C00020);
\draw[edge] (C00020) .. controls (640,4175) and (540,4222) .. (R08553);
\draw[edge] (C00094) .. controls (112,4155) and (125,4175) .. (140,4185) .. controls (185,4212) and (290,4233) .. (R08553);
\draw[edge] (C00224) .. controls (470,4590) and (410,4625) .. (R00529);
\draw[edge] (C00013) .. controls (100,4560) and (185,4635) .. (R00529);
\end{tikzpicture}
\end{document}
